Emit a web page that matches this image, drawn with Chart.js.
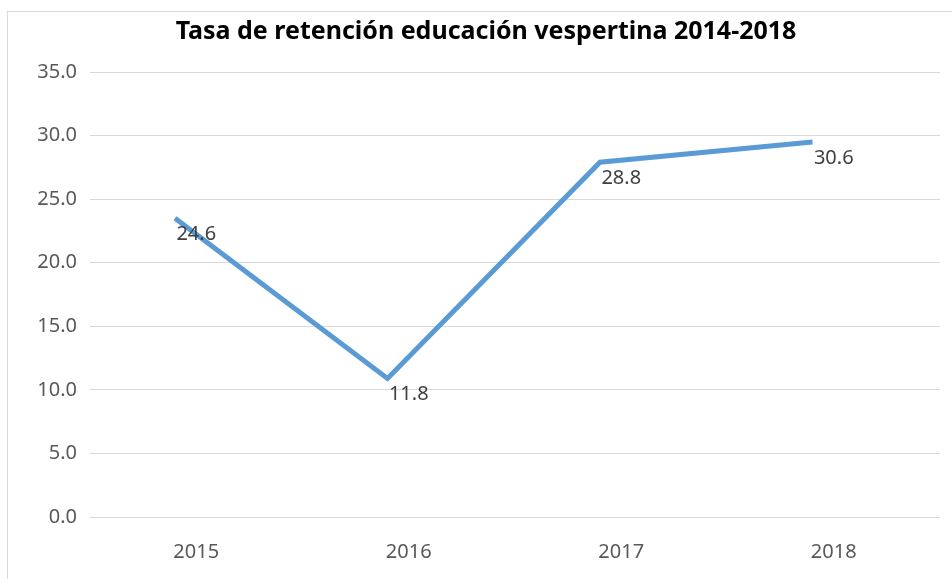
<!DOCTYPE html>
<html>
<head>
<meta charset="utf-8">
<script src="https://cdn.jsdelivr.net/npm/chart.js@4"></script>
<style>
  html, body { margin: 0; padding: 0; background: #fff; }
  .wrap { position: relative; width: 952px; height: 579px; }
  .frame { position: absolute; left: 7px; top: 11px; right: 0; bottom: 0;
           border-left: 1px solid #d9d9d9; border-top: 1px solid #d9d9d9; }
  canvas { position: absolute; left: 0; top: 0; }
</style>
</head>
<body>
<div class="wrap">
  <div class="frame"></div>
  <canvas id="retencionChart" width="952" height="579"></canvas>
</div>
<script>
// Data
const years = ['2015', '2016', '2017', '2018'];
const lineYears = [2015, 2016, 2017, 2018];
const plottedValues = [23.5, 10.9, 27.9, 29.5];   // where the line sits in the picture
const labelValues = [24.6, 11.8, 28.8, 30.6];     // numbers written next to the line
const yTicks = [0, 5, 10, 15, 20, 25, 30, 35];

const textGrey = '#595959';
const font = '"Noto Sans", "Open Sans", sans-serif';

// Data labels below each point, centred on the category
const valueLabels = {
  id: 'valueLabels',
  afterDatasetsDraw(chart) {
    const ctx = chart.ctx;
    const meta = chart.getDatasetMeta(0);
    const xScale = chart.scales.x;
    ctx.save();
    ctx.font = '20px ' + font;
    ctx.fillStyle = '#404040';
    ctx.textAlign = 'center';
    ctx.textBaseline = 'middle';
    meta.data.forEach((pt, i) => {
      ctx.fillText(labelValues[i].toFixed(1), xScale.getPixelForValue(i), pt.y + 16);
    });
    ctx.restore();
  }
};

const ctx = document.getElementById('retencionChart').getContext('2d');
new Chart(ctx, {
  type: 'line',
  data: {
    labels: years,
    datasets: [{
      data: lineYears.map((y, i) => ({ x: y, y: plottedValues[i] })),
      xAxisID: 'xl',
      borderColor: '#5b9bd5',
      borderWidth: 5,
      borderJoinStyle: 'miter',
      pointRadius: 0,
      tension: 0,
      fill: false
    }]
  },
  options: {
    responsive: false,
    animation: false,
    layout: { padding: { left: 32, right: 12, top: 0, bottom: 0 } },
    plugins: {
      legend: { display: false },
      tooltip: { enabled: false },
      title: {
        display: true,
        text: 'Tasa de retención educación vespertina 2014-2018',
        color: '#000',
        font: { family: font, size: 25, weight: 'bold' },
        padding: { top: 17, bottom: 25 }
      }
    },
    scales: {
      x: {
        type: 'category',
        offset: true,
        grid: { display: false },
        border: { display: false },
        ticks: { color: textGrey, font: { family: font, size: 20 }, padding: 15 },
        afterFit: (scale) => { scale.height = 62; }
      },
      xl: {
        type: 'linear',
        display: false,
        min: 2014.6,
        max: 2018.6
      },
      y: {
        min: yTicks[0],
        max: yTicks[yTicks.length - 1],
        grid: { color: '#d9d9d9', lineWidth: 1, drawTicks: false },
        border: { display: false },
        ticks: {
          stepSize: 5,
          color: textGrey,
          padding: 13,
          font: { family: font, size: 20 },
          callback: (v) => Number(v).toFixed(1)
        },
        afterFit: (scale) => { scale.width = 58; }
      }
    }
  },
  plugins: [valueLabels]
});
</script>
</body>
</html>
